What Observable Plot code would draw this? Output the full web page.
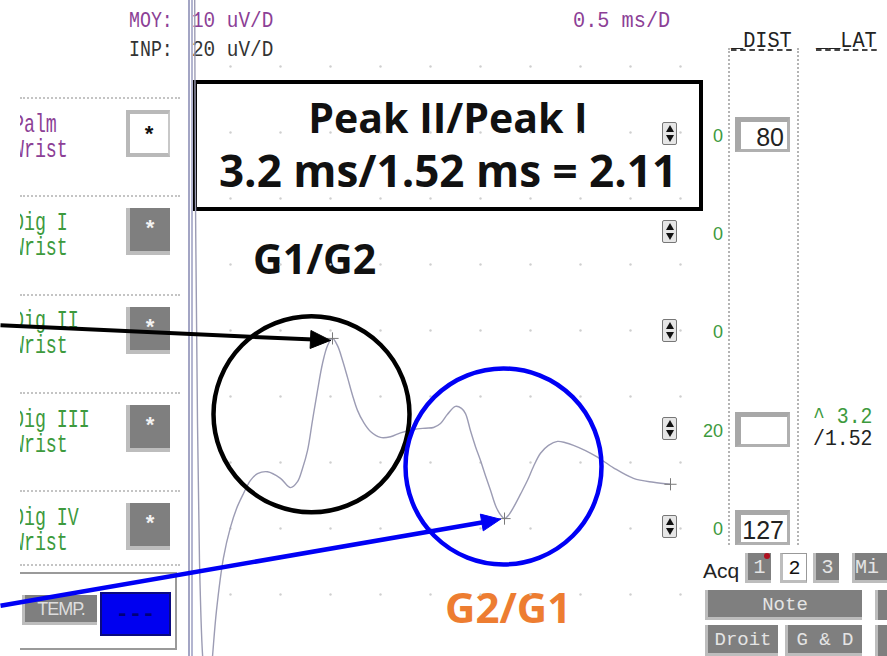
<!DOCTYPE html>
<html><head><meta charset="utf-8">
<script src="https://cdn.jsdelivr.net/npm/d3@7"></script>
<script src="https://cdn.jsdelivr.net/npm/@observablehq/plot@0.6"></script>
<style>
body{margin:0;background:#fff;}
#wrap{position:relative;width:887px;height:656px;overflow:hidden;background:#fff;}
.a{position:absolute;white-space:pre;box-sizing:border-box;}
#wrap svg{position:absolute;left:0;top:0;z-index:5;}
</style></head><body><div id="wrap"></div>
<script>
// ---------------- data ----------------
// averaged sensory trace, time in ms, amplitude in uV (0.5 ms/D, 10 uV/D)
const traceTime = [0.14,0.15,0.17,0.19,0.22,0.25,0.29,0.32,0.36,0.43,0.50,0.56,0.63,0.70,0.77,0.87,1.00,1.10,1.17,1.22,1.27,1.32,1.37,1.42,1.47,1.52,1.57,1.62,1.67,1.72,1.77,1.83,1.90,2.00,2.10,2.20,2.33,2.45,2.53,2.60,2.67,2.75,2.81,2.85,2.90,2.95,3.00,3.05,3.10,3.15,3.19,3.24,3.28,3.33,3.40,3.47,3.53,3.60,3.68,3.77,3.85,3.93,4.05,4.17,4.33,4.53,4.73,4.90];
const traceAmp  = [80,40,6,-15,-29,-34,-35,-29.4,-22.4,-14.4,-9.8,-7.0,-4.7,-2.7,-1.7,-1.4,-2.4,-3.8,-2.9,-0.9,1.8,6.4,10.9,15.0,17.7,18.8,17.7,15.5,12.9,10.2,7.9,6.1,4.7,3.8,3.9,4.5,5.0,5.2,5.3,5.9,7.3,8.5,8.2,7.4,4.8,2.4,0.3,-2.0,-4.2,-6.5,-7.7,-8.5,-8.0,-6.8,-4.8,-2.7,-0.6,1.4,2.6,3.2,3.0,2.6,1.8,0.8,-0.8,-2.4,-3.0,-3.3];
// cursor marks on the trace (peak I, peak II, end)
const markerTime = [1.52, 3.24, 4.90];
const markerAmp  = [18.8, -8.5, -3.3];
// screen grid divisions
const gridTime = [0.5,1.0,1.5,2.0,2.5,3.0,3.5,4.0,4.5,5.0];
const gridAmp  = [-20,-10,0,10,20,30,40,50,60];
// annotation circles (centre in ms / uV)
const circleTime = [1.31, 3.23];
const circleAmp  = [7.3, -0.6];
// annotation arrows: start and tip (ms / uV)
const arrowStartTime = [-1.8, -1.8];
const arrowStartAmp  = [20.8, -21.7];
const arrowEndTime   = [1.50, 3.20];
const arrowEndAmp    = [18.5, -8.6];
// texts
const titleLine1 = "Peak II/Peak I";
const titleLine2 = "3.2 ms/1.52 ms = 2.11";
const labelG1 = "G1/G2";
const labelG2 = "G2/G1";
const channels = ["Palm", "Dig I", "Dig II", "Dig III", "Dig IV"];
const site = "Wrist";
const gainLabels = ["0", "0", "0", "20", "0"];
const distValues = ["80", null, null, "", "127"];
const latValues = ["3.2", "1.52"];
const scaleMoy = "10 uV/D", scaleInp = "20 uV/D", scaleTime = "0.5 ms/D";

// ---------------- layout ----------------
const W = 887, H = 656;
const wrap = document.getElementById("wrap");
function box(css, parent = wrap) { const d = document.createElement("div"); d.className = "a"; d.style.cssText = css; parent.appendChild(d); return d; }
const FAM = {mono: '"Liberation Mono",monospace', sans: '"Liberation Sans",Arial,sans-serif', open: '"Open Sans",sans-serif'};
const KA = {mono: 0.767, sans: 0.847, open: 0.888};
function txt(s, x, base, fs, font, color, extra = "", parent = wrap) {
  const d = box(`left:${x}px;top:${base - KA[font] * fs}px;font:${fs}px/1 ${FAM[font]};color:${color};transform-origin:0 0;${extra}`, parent);
  d.textContent = s; return d;
}
const purple = "#8c3f96", green = "#3d9a3d", btnGray = "#7f7f7f", bevel = "#bdbdbd";

// frame line (double)
box(`left:188px;top:0;width:1.5px;height:${H}px;background:#a3a5c4;`);
box(`left:191px;top:0;width:1.5px;height:${H}px;background:#b3b5d0;`);

// header
txt("MOY:", 129, 28, 22, "mono", purple, "transform:scaleX(0.83)");
txt("INP:", 129, 57, 22, "mono", "#333", "transform:scaleX(0.83)");
txt(scaleMoy, 192, 28, 22, "mono", purple, "transform:scaleX(0.88)");
txt(scaleInp, 192, 57, 22, "mono", "#333", "transform:scaleX(0.88)");
txt(scaleTime, 573, 28, 22, "mono", purple, "transform:scaleX(0.92)");

// left panel
const clip = box("left:20px;top:0;width:100px;height:656px;overflow:hidden;");
const rowTop = i => 110 + i * 98.3;
[97, 195, 294, 392, 490, 564].forEach(y => box(`left:20px;top:${y}px;width:160px;height:0;border-top:2px dotted #c4c4c4;`));
channels.forEach((c, i) => {
  const t = rowTop(i);
  const col = i === 0 ? purple : green;
  txt(c + "\n" + site, -7, t + 22, 25, "mono", col, "transform:scaleX(0.73)", clip);
  if (i === 0) {
    const b = box(`left:126px;top:${t}px;width:44px;height:47px;background:#fff;border:4px solid #b9b9b9;border-right:2px solid #c8c8c8;font:bold 22px/1 ${FAM.mono};color:#111;text-align:center;padding-top:12px;`);
    b.textContent = "*";
  } else {
    const b = box(`left:126px;top:${t}px;width:44px;height:47px;background:${btnGray};border-left:4px solid ${bevel};border-bottom:4px solid ${bevel};font:bold 22px/1 ${FAM.mono};color:#f2f2f2;text-align:center;padding-top:12px;`);
    b.textContent = "*";
  }
  // spinner
  const sp = box(`left:662px;top:${t + 12}px;width:15px;height:23px;background:#e6e6e6;border:1px solid #777;border-radius:2px;`);
  box(`left:2.5px;top:2px;width:0;height:0;border-left:4px solid transparent;border-right:4px solid transparent;border-bottom:7px solid #111;`, sp);
  box(`left:2.5px;top:12px;width:0;height:0;border-left:4px solid transparent;border-right:4px solid transparent;border-top:7px solid #111;`, sp);
  // gain
  const g = txt(gainLabels[i], 0, t + 32, 18, "sans", green);
  g.style.left = ""; g.style.right = (W - 723) + "px";
  // dist box
  if (distValues[i] !== null) {
    const d = box(`left:735px;top:${t + 7}px;width:55px;height:35px;background:#fff;border:3px solid #b0b0b0;border-left:6px solid #a8a8a8;border-top:5px solid #a8a8a8;font:25px/1 ${FAM.sans};color:#222;text-align:right;padding:3px 3px 0 0;`);
    d.textContent = distValues[i];
  }
});
// temp box
box("left:20px;top:572px;width:157px;height:78px;border:2px solid #9a9a9a;border-left:none;");
const tb = box(`left:22px;top:595px;width:75px;height:30px;background:${btnGray};border-left:3px solid ${bevel};border-bottom:3px solid ${bevel};font:18px/1 ${FAM.sans};color:#ddd;text-align:center;padding-top:5px;letter-spacing:-1px;`);
tb.textContent = "TEMP.";
const bb = box(`left:100px;top:592px;width:71px;height:44px;background:#0000f0;border:2px solid #0a0a80;font:bold 22px/1 ${FAM.mono};color:#00007a;text-align:center;padding-top:10px;`);
bb.textContent = "---";

// right columns
box("left:728px;top:48px;width:0;height:497px;border-left:2px dotted #b4b4b4;");
box("left:797px;top:48px;width:0;height:497px;border-left:2px dotted #b4b4b4;");
txt("_DIST", 731, 48, 22, "mono", "#222", "transform:scaleX(0.92);text-decoration:underline dashed #444;");
txt("__LAT", 816, 48, 22, "mono", "#222", "transform:scaleX(0.92);text-decoration:underline dashed #444;");
const lat = box(`left:813px;top:${424 - 0.767 * 22 - 0}px;font:22px/22px ${FAM.mono};transform:scaleX(0.9);transform-origin:0 0;`);
const l1 = document.createElement("span"); l1.style.color = green; l1.textContent = "^ " + latValues[0] + "\n";
const l2 = document.createElement("span"); l2.style.color = "#222"; l2.textContent = "/" + latValues[1];
lat.appendChild(l1); lat.appendChild(l2);

// bottom right buttons
txt("Acq", 703, 578, 21, "sans", "#222");
function btn(label, x, y, w, h, light, fs = 19) {
  const b = box(`left:${x}px;top:${y}px;width:${w}px;height:${h}px;background:${light ? "#fff" : btnGray};border-left:3px solid ${bevel};border-bottom:3px solid ${bevel};${light ? "border-top:1px solid #999;border-right:1px solid #999;" : ""}font:${fs}px/1 ${FAM.mono};color:${light ? "#111" : "#e4e4e4"};text-align:center;padding-top:${(h - fs) / 2}px;`);
  b.textContent = label; return b;
}
btn("1", 745, 553, 26, 30, false, 20);
box("left:764px;top:553px;width:6px;height:6px;border-radius:3px;background:#b01020;z-index:2;");
btn("2", 780, 553, 27, 30, true, 20);
btn("3", 813, 553, 26, 30, false, 20);
btn("Mi", 852, 553, 40, 30, false, 20).style.textAlign = "left";
btn("Note", 705, 590, 157, 30, false, 19);
box(`left:875px;top:590px;width:12px;height:30px;background:${btnGray};border-left:3px solid ${bevel};`);
btn("Droit", 705, 625, 73, 31, false, 19);
btn("G & D", 785, 625, 77, 31, false, 19);
box(`left:875px;top:625px;width:12px;height:31px;background:${btnGray};border-left:3px solid ${bevel};`);

// annotation texts
box(`left:193px;top:80px;width:510px;height:131px;border:4px solid #000;`);
txt(titleLine1, 193, 133, 41, "open", "#111", "font-weight:700;width:510px;text-align:center;");
txt(titleLine2, 193, 187, 44, "open", "#111", "font-weight:700;width:510px;text-align:center;");
txt(labelG1, 253, 274, 41, "open", "#111", "font-weight:700;");
txt(labelG2, 445, 623, 42, "open", "#ed7d31", "font-weight:700;");

// ---------------- plot ----------------
const xDomain = [-1.8, -1.8 + W / 100];
const yDomain = [-194 / 6.6, 70];
const sx = Plot.scale({x: {domain: xDomain, range: [0, W]}});
const sy = Plot.scale({y: {domain: yDomain, range: [H, 0]}});

const trace = traceTime.map((t, i) => ({t, v: traceAmp[i]}));
const markers = markerTime.map((t, i) => ({t, v: markerAmp[i]}));
const grid = gridTime.flatMap(t => gridAmp.map(v => ({t, v})));
const circles = circleTime.map((t, i) => ({t, v: circleAmp[i], c: i}));
const arrowColors = ["#000", "#0000f5"];
function head(i, L, Wd) {
  const x1 = sx.apply(arrowStartTime[i]), y1 = sy.apply(arrowStartAmp[i]);
  const x2 = sx.apply(arrowEndTime[i]), y2 = sy.apply(arrowEndAmp[i]);
  const dx = x2 - x1, dy = y2 - y1, len = Math.hypot(dx, dy), ux = dx / len, uy = dy / len;
  const bx = x2 - ux * L, by = y2 - uy * L, nx = -uy, ny = ux;
  const pts = [[x2, y2], [bx + nx * Wd / 2, by + ny * Wd / 2], [bx - nx * Wd / 2, by - ny * Wd / 2], [x2, y2]];
  return {
    poly: pts.map(([x, y]) => ({t: sx.invert(x), v: sy.invert(y)})),
    link: {t1: arrowStartTime[i], v1: arrowStartAmp[i], t2: sx.invert(bx + ux * 3), v2: sy.invert(by + uy * 3)}
  };
}
const h0 = head(0, 20, 18), h1 = head(1, 19, 17);

const plot = Plot.plot({
  width: W, height: H, margin: 0,
  x: {domain: xDomain, axis: null},
  y: {domain: yDomain, axis: null},
  style: {background: "transparent", overflow: "hidden"},
  marks: [
    Plot.dot(grid, {x: "t", y: "v", r: 1.2, fill: "#cfcfcf"}),
    Plot.line(trace, {x: "t", y: "v", stroke: "#9c9cb4", strokeWidth: 1.4, curve: "catmull-rom", clip: true}),
    Plot.dot(markers, {x: "t", y: "v", symbol: "plus", r: 4, stroke: "#7a7a7a", strokeWidth: 1}),
    Plot.dot(circles, {x: "t", y: "v", r: 98, fill: "none", stroke: d => arrowColors[d.c], strokeWidth: 4.5}),
    Plot.link([h0.link], {x1: "t1", y1: "v1", x2: "t2", y2: "v2", stroke: arrowColors[0], strokeWidth: 4}),
    Plot.link([h1.link], {x1: "t1", y1: "v1", x2: "t2", y2: "v2", stroke: arrowColors[1], strokeWidth: 4.5}),
    Plot.line(h0.poly, {x: "t", y: "v", fill: arrowColors[0], stroke: arrowColors[0], strokeWidth: 1}),
    Plot.line(h1.poly, {x: "t", y: "v", fill: arrowColors[1], stroke: arrowColors[1], strokeWidth: 1})
  ]
});
wrap.appendChild(plot);
</script>
</body></html>
